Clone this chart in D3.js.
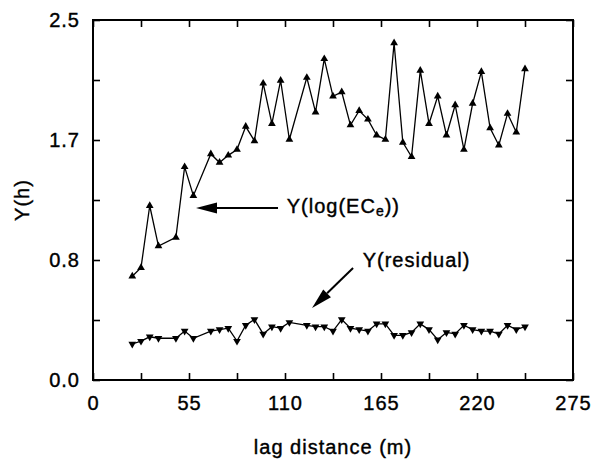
<!DOCTYPE html>
<html>
<head>
<meta charset="utf-8">
<script src="https://cdn.jsdelivr.net/npm/d3@7"></script>
<style>
  body { margin: 0; background: #fff; }
  svg text { font-family: "Liberation Sans", Arial, Helvetica, sans-serif; font-size: 20px; letter-spacing: 1px; fill: #000; stroke: #000; stroke-width: 0.4px; }
</style>
</head>
<body>
<div class="container"></div>
<script>
// lag distances (m), three lags have no pair
const lags = [22.5, 27.5, 32.5, 37.5, 47.5, 52.5, 57.5, 67.5, 72.5, 77.5, 82.5,
  87.5, 92.5, 97.5, 102.5, 107.5, 112.5, 122.5, 127.5, 132.5, 137.5, 142.5,
  147.5, 152.5, 157.5, 162.5, 167.5, 172.5, 177.5, 182.5, 187.5, 192.5, 197.5,
  202.5, 207.5, 212.5, 217.5, 222.5, 227.5, 232.5, 237.5, 242.5, 247.5];

const logEC = [0.72, 0.78, 1.21, 0.93, 0.99, 1.48, 1.28, 1.57, 1.51, 1.56, 1.60,
  1.76, 1.66, 2.06, 1.78, 2.08, 1.67, 2.10, 1.86, 2.23, 1.97, 2.00, 1.77, 1.87,
  1.81, 1.70, 1.67, 2.34, 1.65, 1.55, 2.15, 1.78, 1.97, 1.70, 1.91, 1.60, 1.92,
  2.14, 1.75, 1.63, 1.85, 1.72, 2.16];

const residual = [0.25, 0.27, 0.30, 0.29, 0.29, 0.34, 0.29, 0.34, 0.35, 0.36,
  0.27, 0.38, 0.42, 0.32, 0.37, 0.36, 0.40, 0.38, 0.37, 0.37, 0.34, 0.42, 0.36,
  0.35, 0.34, 0.39, 0.39, 0.31, 0.31, 0.33, 0.39, 0.35, 0.28, 0.33, 0.32, 0.38,
  0.35, 0.34, 0.34, 0.32, 0.38, 0.35, 0.37];

const xTicks = [0, 27.5, 55, 82.5, 110, 137.5, 165, 192.5, 220, 247.5, 275];
const yTicks = [0, 2.5 / 6, 2.5 / 3, 1.25, 2.5 * 2 / 3, 2.5 * 5 / 6, 2.5];

const width = 592;
const height = 464;
const plot = { left: 93, right: 573, top: 20, bottom: 380 };

const svg = d3.select('.container')
  .append('svg')
  .attr('width', width)
  .attr('height', height);

const x = d3.scaleLinear().domain([0, 275]).range([plot.left, plot.right]);
const y = d3.scaleLinear().domain([0, 2.5]).range([plot.bottom, plot.top]);

const xLabel = (d) => (d % 55 === 0 ? d : '');
const yLabel = (d, i) => (i % 2 === 0 ? d3.format('.1f')(d) : '');

const styleAxis = (g) => {
  g.select('.domain').remove();
  g.selectAll('.tick line').attr('stroke', '#000').attr('stroke-width', 1.6);
  g.selectAll('.tick text').attr('fill', '#000');
  g.attr('font-size', null).attr('font-family', null);
};

svg.append('g')
  .attr('transform', `translate(0,${plot.bottom})`)
  .call(d3.axisBottom(x).tickValues(xTicks).tickFormat(xLabel).tickSizeInner(-7).tickSizeOuter(0).tickPadding(16))
  .call(styleAxis);
svg.append('g')
  .attr('transform', `translate(0,${plot.top})`)
  .call(d3.axisTop(x).tickValues(xTicks).tickFormat('').tickSizeInner(-7).tickSizeOuter(0))
  .call(styleAxis);
svg.append('g')
  .attr('transform', `translate(${plot.left},0)`)
  .call(d3.axisLeft(y).tickValues(yTicks).tickFormat(yLabel).tickSizeInner(-7).tickSizeOuter(0).tickPadding(13))
  .call(styleAxis);
svg.append('g')
  .attr('transform', `translate(${plot.right},0)`)
  .call(d3.axisRight(y).tickValues(yTicks).tickFormat('').tickSizeInner(-7).tickSizeOuter(0))
  .call(styleAxis);

svg.append('rect')
  .attr('x', plot.left)
  .attr('y', plot.top)
  .attr('width', plot.right - plot.left)
  .attr('height', plot.bottom - plot.top)
  .attr('fill', 'none')
  .attr('stroke', '#000')
  .attr('stroke-width', 2);

svg.append('text')
  .attr('transform', `translate(29,200) rotate(-90)`)
  .attr('text-anchor', 'middle')
  .text('Y(h)');

svg.append('text')
  .attr('x', (plot.left + plot.right) / 2)
  .attr('y', 454)
  .attr('text-anchor', 'middle')
  .text('lag distance (m)');

const line = d3.line().x((d) => x(d[0])).y((d) => y(d[1]));

const drawSeries = (values, rotate) => {
  const pts = lags.map((l, i) => [l, values[i]]);
  svg.append('path')
    .datum(pts)
    .attr('d', line)
    .attr('fill', 'none')
    .attr('stroke', '#000')
    .attr('stroke-width', 1.3);
  svg.append('g')
    .selectAll('path')
    .data(pts)
    .enter()
    .append('path')
    .attr('d', d3.symbol(d3.symbolTriangle, 26))
    .attr('transform', (d) => `translate(${x(d[0])},${y(d[1])}) rotate(${rotate})`)
    .attr('fill', '#000');
};

drawSeries(logEC, 0);
drawSeries(residual, 180);

// annotation arrows, in data units
const arrow = (x0, y0, x1, y1) => {
  const ax = x(x0), ay = y(y0), bx = x(x1), by = y(y1);
  const ang = Math.atan2(by - ay, bx - ax);
  const len = 21, half = 5.5;
  const cx = bx - len * Math.cos(ang), cy = by - len * Math.sin(ang);
  svg.append('line')
    .attr('x1', ax).attr('y1', ay).attr('x2', cx).attr('y2', cy)
    .attr('stroke', '#000').attr('stroke-width', 2);
  svg.append('path')
    .attr('d', `M${bx},${by}L${cx + half * Math.sin(ang)},${cy - half * Math.cos(ang)}L${cx - half * Math.sin(ang)},${cy + half * Math.cos(ang)}Z`)
    .attr('fill', '#000');
};

arrow(106, 1.194, 59, 1.194);
arrow(149, 0.778, 125.5, 0.5);

const t1 = svg.append('text').attr('x', x(111)).attr('y', y(1.16));
t1.append('tspan').text('Y(log(EC');
t1.append('tspan').attr('font-size', '14px').attr('dy', 3).text('e');
t1.append('tspan').attr('dy', -3).text('))');

svg.append('text')
  .attr('x', x(154.5))
  .attr('y', y(0.785))
  .text('Y(residual)');
</script>
</body>
</html>
